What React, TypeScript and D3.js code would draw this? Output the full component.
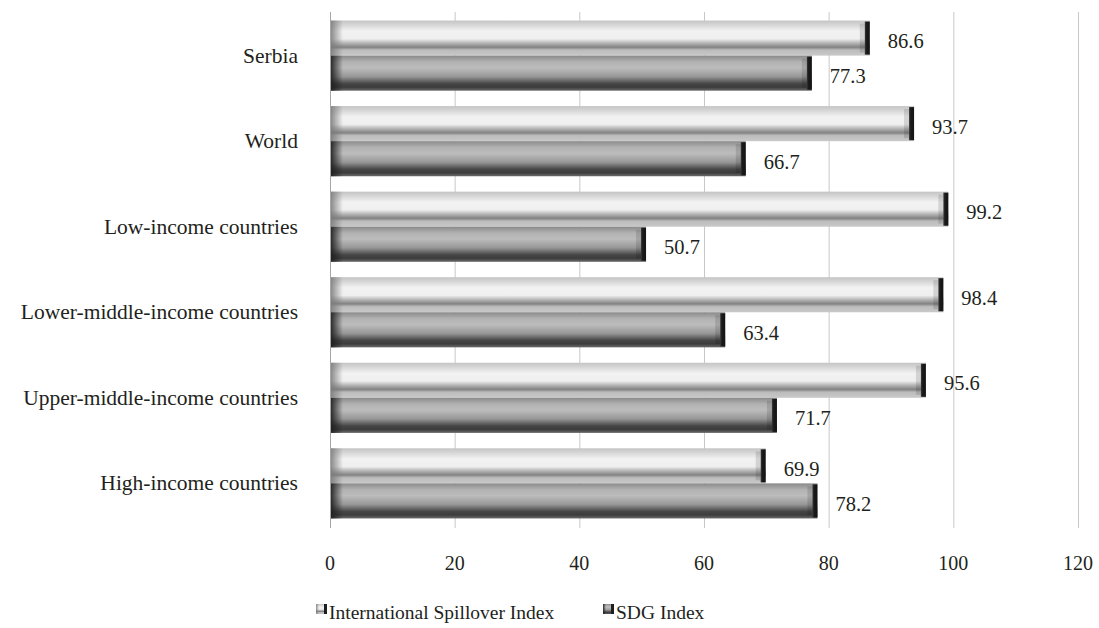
import React from "react";
import * as d3 from "d3";

const categories = [
  "Serbia",
  "World",
  "Low-income countries",
  "Lower-middle-income countries",
  "Upper-middle-income countries",
  "High-income countries",
];
const spilloverValues = [86.6, 93.7, 99.2, 98.4, 95.6, 69.9];
const sdgValues = [77.3, 66.7, 50.7, 63.4, 71.7, 78.2];
const seriesNames = ["International Spillover Index", "SDG Index"];
const xTicks = [0, 20, 40, 60, 80, 100, 120];

const W = 1099;
const H = 628;
const FONT = "'Liberation Serif', 'Times New Roman', serif";
const TEXT = "#231f20";

export default function App() {
  const x = d3.scaleLinear().domain([0, 120]).range([330, 1078]);
  const y = d3
    .scaleBand<string>()
    .domain(categories)
    .range([12, 527])
    .paddingInner(0.18)
    .paddingOuter(0.1);
  const sub = d3.scaleBand<number>().domain([0, 1]).range([0, y.bandwidth()]);
  const series = [spilloverValues, sdgValues];
  const grads = ["gLight", "gDark"];
  const lefts = ["lLight", "lDark"];

  return (
    <svg width={W} height={H} style={{ display: "block", position: "absolute", left: 0, top: 0 }}>
      <defs>
        <linearGradient id="gLight" x1="0" y1="0" x2="0" y2="1">
          <stop offset="0" stopColor="#c4c4c4" />
          <stop offset="0.15" stopColor="#dadada" />
          <stop offset="0.3" stopColor="#f2f2f2" />
          <stop offset="0.52" stopColor="#efefef" />
          <stop offset="0.64" stopColor="#b6b6b6" />
          <stop offset="0.76" stopColor="#828282" />
          <stop offset="0.84" stopColor="#bcbcbc" />
          <stop offset="1" stopColor="#c9c9c9" />
        </linearGradient>
        <linearGradient id="gDark" x1="0" y1="0" x2="0" y2="1">
          <stop offset="0" stopColor="#8a8a8a" />
          <stop offset="0.18" stopColor="#b2b2b2" />
          <stop offset="0.35" stopColor="#bcbcbc" />
          <stop offset="0.6" stopColor="#979797" />
          <stop offset="0.8" stopColor="#464646" />
          <stop offset="0.9" stopColor="#3c3c3c" />
          <stop offset="1" stopColor="#6a6a6a" />
        </linearGradient>
        <linearGradient id="lLight" x1="0" y1="0" x2="1" y2="0">
          <stop offset="0" stopColor="#7a7a7a" stopOpacity="0.85" />
          <stop offset="1" stopColor="#7a7a7a" stopOpacity="0" />
        </linearGradient>
        <linearGradient id="lDark" x1="0" y1="0" x2="1" y2="0">
          <stop offset="0" stopColor="#1e1e1e" stopOpacity="0.9" />
          <stop offset="1" stopColor="#1e1e1e" stopOpacity="0" />
        </linearGradient>
        <linearGradient id="capG" x1="0" y1="0" x2="1" y2="0">
          <stop offset="0" stopColor="#3a3a3a" />
          <stop offset="0.35" stopColor="#1a1a1a" />
          <stop offset="1" stopColor="#141414" />
        </linearGradient>
      </defs>

      {/* gridlines */}
      {xTicks.map((t) => (
        <line
          key={"g" + t}
          x1={x(t) + 0.5}
          x2={x(t) + 0.5}
          y1={12}
          y2={528}
          stroke={t === 0 ? "#a6a6a6" : "#c8c8c8"}
          strokeWidth={1}
        />
      ))}

      {/* bars */}
      {categories.map((c, i) => (
        <g key={c}>
          {series.map((vals, s) => {
            const y0 = (y(c) as number) + (sub(s) as number);
            const h = sub.bandwidth();
            const x0 = x(0) + 1;
            const x1 = x(vals[i]);
            const w = x1 - x0;
            return (
              <g key={s}>
                <rect x={x0} y={y0} width={w} height={h} fill={`url(#${grads[s]})`} />
                <rect x={x0} y={y0} width={Math.min(12, w)} height={h} fill={`url(#${lefts[s]})`} />
                <rect x={x1 - 10} y={y0 + 3} width={5} height={h - 6} fill="#000" opacity={0.12} />
                <rect x={x1 - 5} y={y0 + 1} width={5} height={h - 2} fill="url(#capG)" />
              </g>
            );
          })}
          {series.map((vals, s) => {
            const yc = (y(c) as number) + (sub(s) as number) + sub.bandwidth() / 2;
            return (
              <text
                key={"t" + s}
                x={x(vals[i]) + 18}
                y={yc + 10}
                fontFamily={FONT}
                fontSize={20.5}
                fill={TEXT}
              >
                {vals[i].toFixed(1)}
              </text>
            );
          })}
          <text
            x={298}
            y={(y(c) as number) + y.bandwidth() / 2 + 7}
            textAnchor="end"
            fontFamily={FONT}
            fontSize={21.5}
            fill={TEXT}
          >
            {c}
          </text>
        </g>
      ))}

      {/* x tick labels */}
      {xTicks.map((t) => (
        <text
          key={"xt" + t}
          x={x(t)}
          y={570}
          textAnchor="middle"
          fontFamily={FONT}
          fontSize={20}
          fill={TEXT}
        >
          {t}
        </text>
      ))}

      {/* legend */}
      {seriesNames.map((n, s) => {
        const lx = s === 0 ? 316 : 603;
        return (
          <g key={n}>
            <rect x={lx} y={604} width={11} height={10} fill={`url(#${grads[s]})`} />
            <rect x={lx} y={604} width={3} height={10} fill={`url(#${lefts[s]})`} />
            <rect x={lx + 8} y={604} width={3} height={10} fill="#1e1e1e" />
            <text x={lx + 13} y={619} fontFamily={FONT} fontSize={19.5} fill={TEXT}>
              {n}
            </text>
          </g>
        );
      })}
    </svg>
  );
}
